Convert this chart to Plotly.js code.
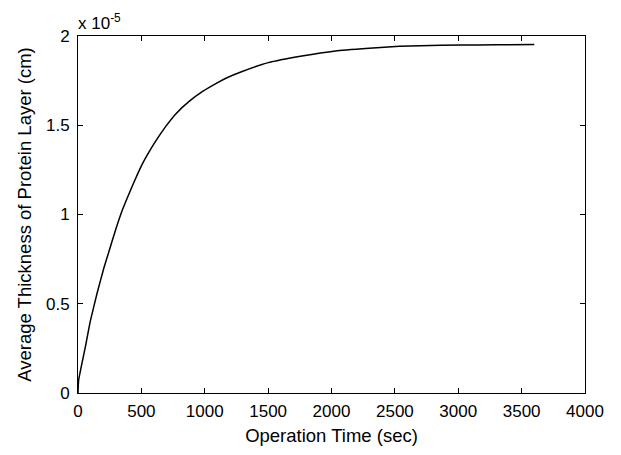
<!DOCTYPE html>
<html>
<head>
<meta charset="utf-8">
<script src="https://cdn.plot.ly/plotly-3.0.1.min.js"></script>
<style>html,body{margin:0;padding:0;background:#fff;}#chart{width:621px;height:455px;}</style>
</head>
<body>
<div id="chart"></div>
<script>
// Operation time (sec)
var time = [0, 5, 58, 98, 151, 204, 243, 297, 350, 416, 469, 509, 548, 614, 694, 773, 879, 986, 1091, 1171, 1290, 1502, 1767, 2032, 2297, 2536, 2705, 3023, 3300, 3600];
// Average thickness of protein layer (units of 1e-5 cm)
var thickness = [0, 0.071, 0.258, 0.405, 0.560, 0.700, 0.790, 0.915, 1.025, 1.139, 1.225, 1.285, 1.335, 1.412, 1.495, 1.565, 1.635, 1.691, 1.735, 1.765, 1.800, 1.851, 1.888, 1.916, 1.931, 1.942, 1.946, 1.949, 1.951, 1.952];
var xTicks = [0, 500, 1000, 1500, 2000, 2500, 3000, 3500, 4000];
var yTicks = [0, 0.5, 1, 1.5, 2];
var yTickText = ['0', '0.5', '1', '1.5', '2'];

var fontFam = 'Liberation Sans, Arial, sans-serif';
var trace = {
  x: time, y: thickness, type: 'scatter', mode: 'lines',
  line: {color: '#000', width: 1.5, shape: 'spline', smoothing: 0.4}
};
var axisCommon = {
  showline: true, linecolor: '#000', linewidth: 1, mirror: 'ticks',
  ticks: 'inside', ticklen: 5, tickcolor: '#000', tickwidth: 1,
  showgrid: false, zeroline: false, automargin: false,
  tickfont: {family: fontFam, size: 17, color: '#000'}
};
var layout = {
  width: 621, height: 455,
  margin: {l: 78, r: 36, t: 36, b: 62},
  paper_bgcolor: '#fff', plot_bgcolor: '#fff',
  showlegend: false,
  xaxis: Object.assign({}, axisCommon, {
    range: [0, 4000], tickvals: xTicks, ticktext: xTicks.map(String),
    ticklabelstandoff: 3,
    title: {text: 'Operation Time (sec)', font: {family: fontFam, size: 18.5, color: '#000'}, standoff: 8}
  }),
  yaxis: Object.assign({}, axisCommon, {
    range: [0, 2], tickvals: yTicks, ticktext: yTickText,
    ticklabelstandoff: 4,
    title: {text: 'Average Thickness of Protein Layer (cm)', font: {family: fontFam, size: 18.5, color: '#000'}, standoff: 9}
  }),
  annotations: [{
    xref: 'paper', yref: 'paper', x: 0, y: 1, xanchor: 'left', yanchor: 'bottom',
    text: 'x 10<sup>-5</sup>', showarrow: false, xshift: -2, yshift: 1,
    font: {family: fontFam, size: 17, color: '#000'}
  }]
};
Plotly.newPlot('chart', [trace], layout, {displayModeBar: false, staticPlot: true});
</script>
</body>
</html>
